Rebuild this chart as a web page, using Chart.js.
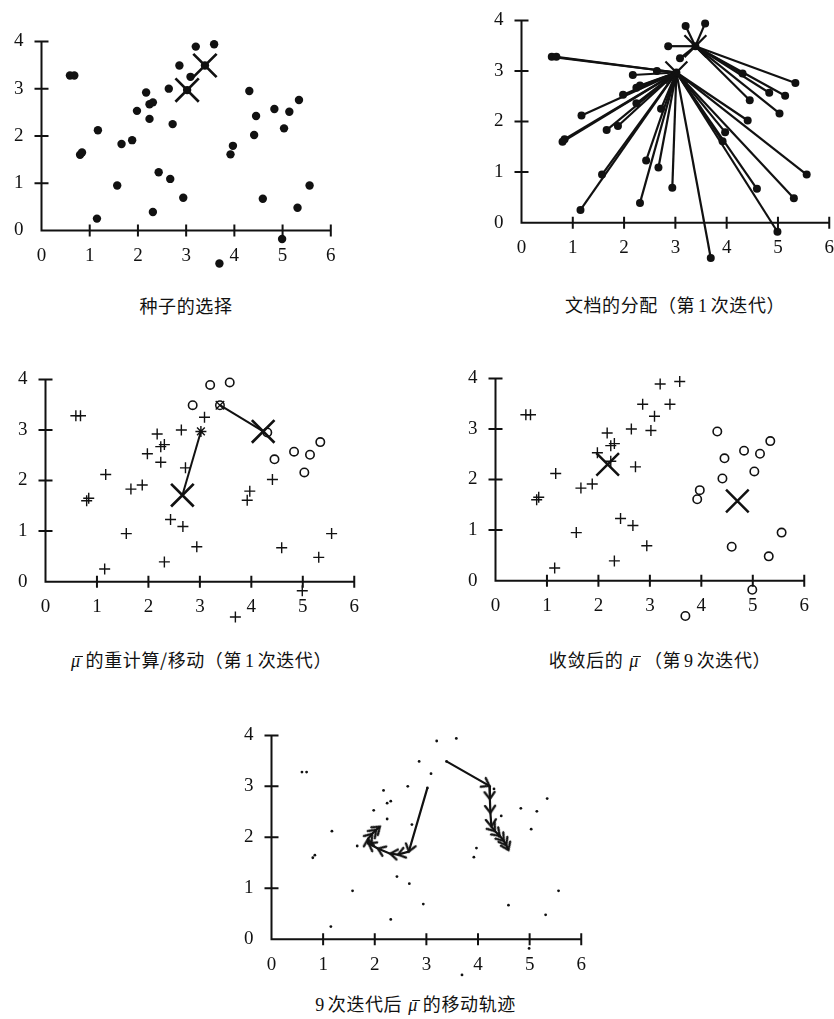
<!DOCTYPE html>
<html>
<head>
<meta charset="utf-8">
<script src="https://cdn.jsdelivr.net/npm/chart.js@4/dist/chart.umd.min.js"></script>
<style>
  html, body { margin: 0; padding: 0; background: #fff; }
  body { width: 834px; height: 1019px; position: relative; overflow: hidden; }
  .panel { position: absolute; }
  .panel canvas { display: block; }
  .cap { position: absolute; transform: translate(-50%, -50%); white-space: nowrap;
         font-family: "Noto Sans CJK SC", sans-serif; font-size: 18px; color: #111;
         line-height: 1; letter-spacing: 0.6px; }
  .num { font-family: "Liberation Serif", serif; margin: 0 3px; }
  .mu { font-family: "Liberation Serif", serif; font-style: italic; position: relative; margin: 0 5px 0 3px; }
  .mu::after { content: ""; position: absolute; left: 0.2em; top: 0.3em; width: 0.45em;
               border-top: 1px solid #111; }
</style>
</head>
<body>
<div class="cap" style="left:186px; top:305px;">种子的选择</div>
<div class="cap" style="left:675px; top:305px;">文档的分配（第<span class="num">1</span>次迭代）</div>
<div class="cap" style="left:200px; top:660px;"><span class="mu">μ</span>的重计算/移动（第<span class="num">1</span>次迭代）</div>
<div class="cap" style="left:660px; top:660px;">收敛后的<span class="mu" style="margin-left:6px">μ</span>（第<span class="num">9</span>次迭代）</div>
<div class="cap" style="left:414px; top:1004px;"><span class="num">9</span>次迭代后<span class="mu" style="margin-left:6px">μ</span>的移动轨迹</div>

<script>
// ---- document coordinates (40 documents) ----
const docX = [0.59, 0.68, 0.80, 0.84, 1.17, 1.15, 1.57, 1.66, 1.88, 1.98,
              2.17, 2.24, 2.31, 2.24, 2.43, 2.31, 2.64, 2.67, 2.72, 2.86,
              2.94, 3.02, 3.09, 3.20, 3.39, 3.58, 3.69, 3.92, 3.97, 4.31,
              4.41, 4.45, 4.59, 4.83, 5.03, 5.14, 4.99, 5.34, 5.31, 5.56];
const docY = [3.28, 3.28, 1.60, 1.65, 2.12, 0.25, 0.95, 1.83, 1.91, 2.53,
              2.92, 2.67, 2.71, 2.36, 1.23, 0.39, 3.00, 1.09, 2.25, 3.49,
              0.69, 2.97, 3.25, 3.89, 3.49, 3.94, -0.70, 1.61, 1.79, 2.95,
              2.02, 2.42, 0.67, 2.57, 2.16, 2.51, -0.18, 2.76, 0.48, 0.95];

// seed documents (indices into the document arrays)
const seedIndex = [21, 24];

// seed each document is linked to in the first assignment step
const linkSeed = [0, 0, 0, 0, 0, 0, 0, 0, 0, 0,
                  0, 0, 0, 0, 0, 0, 0, 0, 0, 1,
                  0, 0, 1, 1, 1, 1, 0, 0, 0, 1,
                  0, 1, 0, 1, 1, 1, 0, 1, 0, 0];
// cluster membership after the first iteration
const groupIter1 = [0, 0, 0, 0, 0, 0, 0, 0, 0, 0,
                    0, 0, 0, 0, 0, 0, 0, 0, 0, 1,
                    0, 0, 0, 1, 1, 1, 0, 0, 0, 1,
                    0, 1, 0, 1, 1, 1, 0, 1, 0, 0];
// cluster membership after convergence
const groupFinal = [0, 0, 0, 0, 0, 0, 0, 0, 0, 0,
                    0, 0, 0, 0, 0, 0, 0, 0, 0, 0,
                    0, 0, 0, 0, 0, 0, 1, 1, 1, 1,
                    1, 1, 1, 1, 1, 1, 1, 1, 1, 1];

// centroids after iteration 1 and after convergence
const centIter1X = [2.66, 4.23];
const centIter1Y = [1.71, 2.97];
const centFinalX = [2.18, 4.70];
const centFinalY = [2.30, 1.575];

// centroid trajectories over 9 iterations
const path1X = [3.02, 2.66, 2.45, 2.30, 2.06, 1.88, 1.87, 1.95, 2.03, 2.10];
const path1Y = [2.97, 1.72, 1.66, 1.68, 1.78, 1.88, 1.97, 2.07, 2.15, 2.21];
const path2X = [3.39, 4.22, 4.23, 4.24, 4.26, 4.33, 4.42, 4.50, 4.55, 4.59];
const path2Y = [3.49, 3.01, 2.75, 2.48, 2.21, 2.12, 2.03, 1.93, 1.84, 1.75];

// axis tick labels
const xTickLabels = ['0', '1', '2', '3', '4', '5', '6'];
const yTickLabels = ['0', '1', '2', '3', '4'];

const INK = '#111';
const Y_LOW = -0.85;   // room below the x axis for documents with negative y
const X_END = xTickLabels.length - 1, Y_END = yTickLabels.length - 1;
const allIdx = docX.map((_, i) => i);
const pts = idx => idx.map(i => ({ x: docX[i], y: docY[i] }));
const pathPts = (xs, ys) => xs.map((x, i) => ({ x, y: ys[i] }));

// axis lines through the origin with short cross ticks
const originAxes = {
  id: 'originAxes',
  beforeDatasetsDraw(chart) {
    const { ctx, scales: { x, y } } = chart;
    const x0 = x.getPixelForValue(0), x6 = x.getPixelForValue(X_END);
    const y0 = y.getPixelForValue(0), y4 = y.getPixelForValue(Y_END);
    ctx.save();
    ctx.strokeStyle = INK; ctx.lineWidth = 2; ctx.lineCap = 'butt';
    ctx.beginPath();
    ctx.moveTo(x0 - 1, y0); ctx.lineTo(x6 + 1, y0);
    ctx.moveTo(x0, y0 + 1); ctx.lineTo(x0, y4 - 1);
    x.ticks.forEach(t => {
      if (t.value === 0) return;
      const px = x.getPixelForValue(t.value);
      ctx.moveTo(px, y0 - 6); ctx.lineTo(px, y0 + 6);
    });
    y.ticks.forEach(t => {
      if (t.value === 0) return;
      const py = y.getPixelForValue(t.value);
      ctx.moveTo(x0 - 7, py); ctx.lineTo(x0 + 7, py);
    });
    ctx.stroke();
    ctx.restore();
  }
};

function chartConfig(datasets) {
  const tickFont = { family: '"Liberation Serif", serif', size: 19 };
  return {
    type: 'scatter',
    data: { datasets },
    options: {
      responsive: false,
      maintainAspectRatio: false,
      animation: false,
      events: [],
      layout: { padding: 0 },
      datasets: { scatter: { clip: false } },
      plugins: { legend: { display: false }, tooltip: { enabled: false } },
      scales: {
        x: {
          type: 'linear', min: 0, max: X_END,
          position: { y: 0 },
          afterBuildTicks: s => { s.ticks = xTickLabels.map((_, i) => ({ value: i })); },
          ticks: { padding: 14, color: INK, font: tickFont, maxRotation: 0,
                   callback: v => xTickLabels[Math.round(v)] },
          grid: { drawOnChartArea: false, drawTicks: false },
          border: { display: false }
        },
        y: {
          type: 'linear', min: Y_LOW, max: Y_END,
          position: 'left',
          afterBuildTicks: s => { s.ticks = yTickLabels.map((_, i) => ({ value: i })); },
          ticks: { padding: 18, color: INK, font: tickFont,
                   callback: v => yTickLabels[Math.round(v)] },
          grid: { drawOnChartArea: false, drawTicks: false },
          border: { display: false }
        }
      }
    },
    plugins: [originAxes]
  };
}

// frame: page pixels of the x=0 / x=6 and y=4 / y=0 axis ends
function makePanel(frame, buildDatasets) {
  const unitY = (frame.y0 - frame.y4) / Y_END;
  const area = { left: frame.x0, right: frame.x6, top: frame.y4, bottom: frame.y0 + (-Y_LOW) * unitY };
  const div = document.createElement('div');
  div.className = 'panel';
  document.body.appendChild(div);
  const addCanvas = (w, h) => {
    const c = document.createElement('canvas');
    c.width = w; c.height = h;
    div.appendChild(c);
    return c;
  };
  // first pass measures the space the axes take around the plot area
  const w0 = Math.round(area.right - area.left) + 80, h0 = Math.round(area.bottom - area.top) + 80;
  div.style.left = '0px'; div.style.top = '0px';
  div.style.width = w0 + 'px'; div.style.height = h0 + 'px';
  const probeCanvas = addCanvas(w0, h0);
  const probe = new Chart(probeCanvas, chartConfig(buildDatasets()));
  const ca = probe.chartArea;
  const m = { left: ca.left, top: ca.top, right: w0 - ca.right, bottom: h0 - ca.bottom };
  probe.destroy();
  div.removeChild(probeCanvas);
  // final pass with the plot area on the intended frame
  const left = Math.round(area.left - m.left), top = Math.round(area.top - m.top);
  const w = Math.round(area.right - left + m.right), h = Math.round(area.bottom - top + m.bottom);
  div.style.left = left + 'px'; div.style.top = top + 'px';
  div.style.width = w + 'px'; div.style.height = h + 'px';
  return new Chart(addCanvas(w, h), chartConfig(buildDatasets()));
}

function dots(data, r) {
  return { data, pointStyle: 'circle', pointRadius: r, backgroundColor: INK, borderWidth: 0 };
}
function marks(data, style, r, bw) {
  return { data, pointStyle: style, pointRadius: r, borderColor: INK,
           backgroundColor: 'rgba(0,0,0,0)', borderWidth: bw };
}
function segment(a, b, bw) {
  return { data: [a, b], showLine: true, borderColor: INK, borderWidth: bw,
           pointRadius: 0, tension: 0 };
}

const seedPts = () => pts(seedIndex);

// 1) seed selection
makePanel({ x0: 41.3, x6: 331, y4: 41, y0: 230.7 }, () => [
  marks(seedPts(), 'crossRot', 16.5, 2.7),
  dots(pts(allIdx), 4.2)
]);

// 2) assignment of documents to the nearest seed
makePanel({ x0: 521.3, x6: 829, y4: 20, y0: 222.7 }, () => {
  const s = seedPts();
  const links = allIdx
    .filter(i => !seedIndex.includes(i))
    .map(i => segment({ x: docX[i], y: docY[i] }, s[linkSeed[i]], 2.2));
  return [
    marks(s, 'crossRot', 15.5, 2.2),
    dots(pts(allIdx), 4),
    ...links
  ];
});

// 3) recomputation / movement of the centroids
const plain = allIdx.filter(i => !seedIndex.includes(i));
makePanel({ x0: 45, x6: 354, y4: 379, y0: 581.7 }, () => {
  const s = seedPts();
  const cent1 = centIter1X.map((x, k) => ({ x, y: centIter1Y[k] }));
  return [
    marks(cent1, 'crossRot', 16, 2.7),
    segment(s[0], cent1[0], 2),
    segment(s[1], cent1[1], 2),
    marks([s[0]], 'star', 5.5, 1.4),
    marks([s[1]], 'crossRot', 6, 1.3),
    marks([s[1]], 'circle', 4.2, 1.5),
    marks(pts(plain.filter(i => groupIter1[i] === 0)), 'cross', 5.5, 1.4),
    marks(pts(plain.filter(i => groupIter1[i] === 1)), 'circle', 4.2, 1.6)
  ];
});

// 4) converged centroids
makePanel({ x0: 495.7, x6: 804.3, y4: 378.3, y0: 580.7 }, () => [
  marks(centFinalX.map((x, k) => ({ x, y: centFinalY[k] })), 'crossRot', 16, 2.5),
  marks(pts(allIdx.filter(i => groupFinal[i] === 0)), 'cross', 5.5, 1.4),
  marks(pts(allIdx.filter(i => groupFinal[i] === 1)), 'circle', 4.2, 1.6)
]);

// 5) centroid trajectories with open arrowheads
function arrowHead() {
  const c = document.createElement('canvas');
  c.width = 18; c.height = 18;
  const g = c.getContext('2d');
  g.strokeStyle = INK; g.lineWidth = 2.2; g.lineCap = 'round'; g.lineJoin = 'miter';
  g.beginPath(); g.moveTo(2, 4); g.lineTo(9, 9); g.lineTo(2, 14); g.stroke();
  return c;
}
const head = arrowHead();
function arrows(xs, ys) {
  return {
    data: pathPts(xs, ys).slice(1),
    pointStyle: head,
    pointRadius: 6,
    rotation: ctx => {
      const i = ctx.dataIndex;
      const sx = ctx.chart.scales.x, sy = ctx.chart.scales.y;
      const dx = sx.getPixelForValue(xs[i + 1]) - sx.getPixelForValue(xs[i]);
      const dy = sy.getPixelForValue(ys[i + 1]) - sy.getPixelForValue(ys[i]);
      return Math.atan2(dy, dx) * 180 / Math.PI;
    }
  };
}
function track(xs, ys) {
  return { data: pathPts(xs, ys), showLine: true, borderColor: INK, borderWidth: 2.2,
           pointRadius: 0, tension: 0 };
}
makePanel({ x0: 271.7, x6: 581, y4: 735.7, y0: 939 }, () => [
  arrows(path1X, path1Y),
  arrows(path2X, path2Y),
  track(path1X, path1Y),
  track(path2X, path2Y),
  dots(pts(allIdx), 1.4)
]);
</script>
</body>
</html>
